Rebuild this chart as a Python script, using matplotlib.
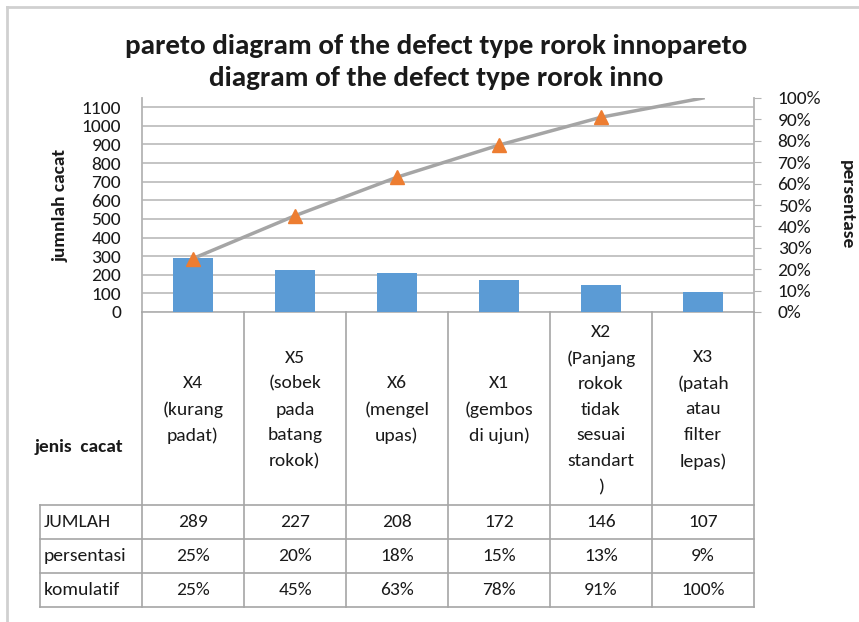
import matplotlib
matplotlib.use("Agg")
import matplotlib.pyplot as plt
from matplotlib import font_manager
import numpy as np

categories = ["X4\n(kurang\npadat)", "X5\n(sobek\npada\nbatang\nrokok)", "X6\n(mengel\nupas)",
              "X1\n(gembos\ndi ujun)", "X2\n(Panjang\nrokok\ntidak\nsesuai\nstandart\n)",
              "X3\n(patah\natau\nfilter\nlepas)"]
jumlah = [289, 227, 208, 172, 146, 107]
persentasi = [25, 20, 18, 15, 13, 9]
komulatif = [25, 45, 63, 78, 91, 100]
row_labels = ["JUMLAH", "persentasi", "komulatif"]

installed = {f.name for f in font_manager.fontManager.ttflist}
font = next(f for f in ["Carlito", "Lato", "Open Sans", "DejaVu Sans"] if f in installed)
plt.rcParams["font.family"] = [font, "DejaVu Sans"]

W, H = 859, 622
fig = plt.figure(figsize=(W / 100, H / 100), dpi=100)
fs = 14
txt_c = "#1a1a1a"

# plot area in pixels
px_l, px_r, px_t, px_b = 142, 754, 98, 312
pw = px_r - px_l
ax = fig.add_axes([px_l / W, 1 - px_b / H, pw / W, (px_b - px_t) / H])
ax2 = ax.twinx()

grid_c = "#b4b4b4"
n = len(jumlah)
x = np.arange(n)
total = sum(jumlah)

ax.bar(x, jumlah, width=0.4, color="#5b9bd5", zorder=3)
ax.set_xlim(-0.5, n - 0.5)
ax.set_ylim(0, total)
ax.set_yticks(range(0, 1200, 100))
ax.yaxis.grid(True, color=grid_c, lw=1.1, zorder=0)
ax.set_axisbelow(True)
ax.set_xticks([])
ax.tick_params(axis="y", length=0, labelsize=fs, pad=15, labelcolor=txt_c)
for s in ["top", "right"]:
    ax.spines[s].set_visible(False)
for s in ["left", "bottom"]:
    ax.spines[s].set_color(grid_c)
    ax.spines[s].set_linewidth(1.3)

ax2.plot(x, komulatif, color="#a5a5a5", lw=2.5, zorder=4, clip_on=True)
ax2.plot(x[:-1], komulatif[:-1], ls="none", marker="^", ms=10, color="#ed7d31", zorder=5)
ax2.set_ylim(0, 100)
ax2.set_yticks(range(0, 101, 10))
ax2.set_yticklabels([f"{v}%" for v in range(0, 101, 10)])
ax2.tick_params(axis="y", length=5, color=grid_c, labelsize=fs, pad=12, labelcolor=txt_c)
for s in ["top", "left", "bottom"]:
    ax2.spines[s].set_visible(False)
ax2.spines["right"].set_color(grid_c)
ax2.spines["right"].set_linewidth(1.3)

# axis titles
mid_y = 1 - (px_t + px_b) / 2 / H
fig.text(61 / W, mid_y, "jumnlah cacat", rotation=90, ha="center", va="center",
         fontsize=fs, fontweight="bold", color=txt_c)
fig.text(847 / W, mid_y, "persentase", rotation=270, ha="center", va="center",
         fontsize=fs, fontweight="bold", color=txt_c)

fig.text(436 / W, 1 - 62 / H,
         "pareto diagram of the defect type rorok innopareto\ndiagram of the defect type rorok inno",
         ha="center", va="center", fontsize=21, fontweight="bold", linespacing=1.45, color=txt_c)

# data table below the chart, drawn in pixel coordinates
tb = fig.add_axes([0, 0, 1, 1])
tb.set_xlim(0, W)
tb.set_ylim(H, 0)
tb.axis("off")
col_w = pw / n
xs = [px_l + i * col_w for i in range(n + 1)]
lab_l = 40
hdr_b = 505
row_h = 34
rows_y = [hdr_b + i * row_h for i in range(len(row_labels) + 1)]
lc = "#a6a6a6"
lw = 1.2
for xv in xs:
    tb.plot([xv, xv], [px_b, rows_y[-1]], color=lc, lw=lw)
for yv in rows_y:
    tb.plot([lab_l, px_r], [yv, yv], color=lc, lw=lw)
tb.plot([lab_l, lab_l], [hdr_b, rows_y[-1]], color=lc, lw=lw)

for i, c in enumerate(categories):
    cx = (xs[i] + xs[i + 1]) / 2
    tb.text(cx, (px_b + hdr_b) / 2 + 1, c, ha="center", va="center", fontsize=fs,
            linespacing=1.74, color=txt_c)
tb.text(79, 447, "jenis  cacat", ha="center", va="center", fontsize=fs, fontweight="bold",
        color=txt_c)

vals = [[str(v) for v in jumlah], [f"{v}%" for v in persentasi], [f"{v}%" for v in komulatif]]
for r, lab in enumerate(row_labels):
    cy = (rows_y[r] + rows_y[r + 1]) / 2
    tb.text(lab_l + 4, cy, lab, ha="left", va="center", fontsize=fs, color=txt_c)
    for i, v in enumerate(vals[r]):
        tb.text((xs[i] + xs[i + 1]) / 2, cy, v, ha="center", va="center", fontsize=fs,
                color=txt_c)

# frame of the screenshot
tb.plot([7, 7], [7, H], color="#d0d0d0", lw=2)
tb.plot([7, W], [7, 7], color="#d0d0d0", lw=2)

fig.savefig("out.png", dpi=100)
